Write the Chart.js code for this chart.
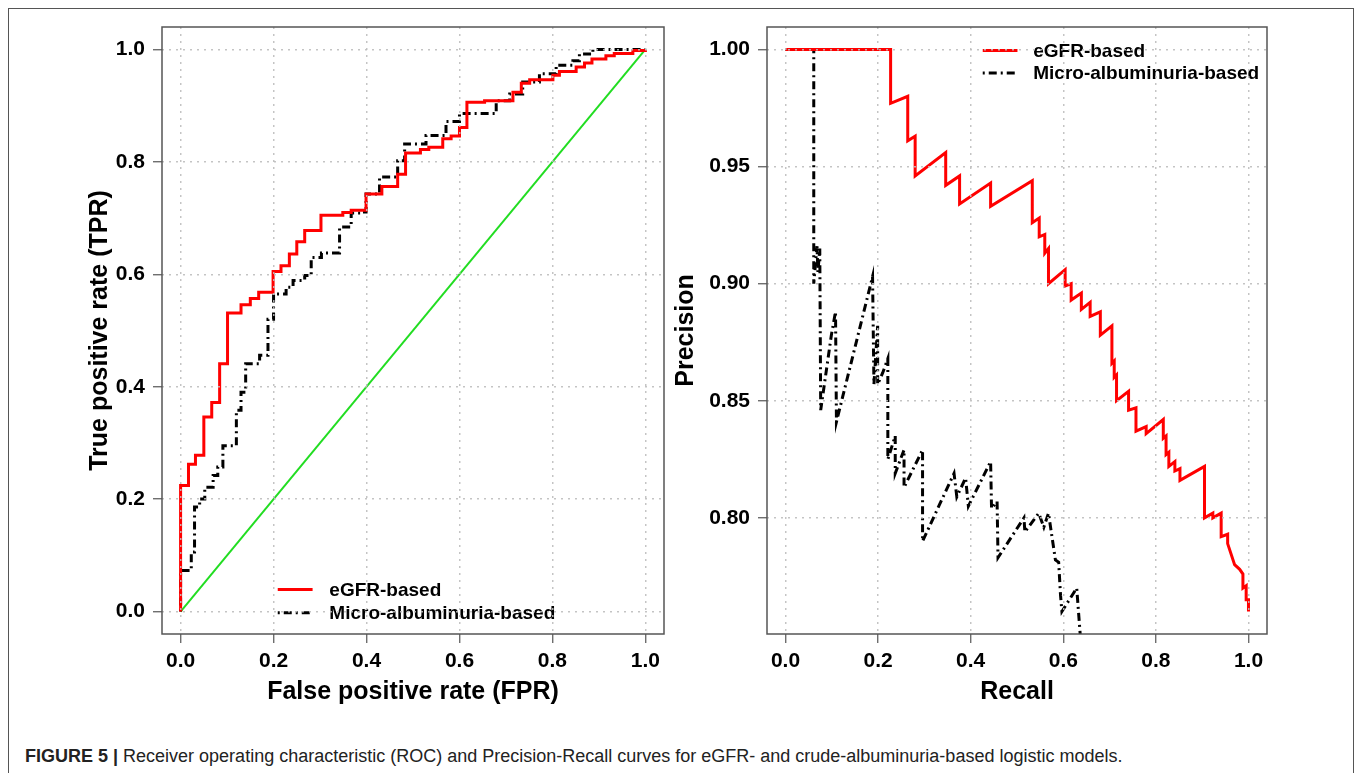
<!DOCTYPE html>
<html lang="en">
<head>
<meta charset="UTF-8">
<title>Figure 5 - ROC and Precision-Recall</title>
<script src="https://cdn.jsdelivr.net/npm/chart.js"></script>
<style>
    body {
        margin: 0;
        width: 1357px;
        height: 773px;
        background: #ffffff;
        position: relative;
        overflow: hidden;
        font-family: "Liberation Sans", Arial, sans-serif;
    }
    .frame {
        position: absolute;
        left: 8px;
        top: 8px;
        width: 1346px;
        height: 800px;
        border: 1.5px solid #555;
        box-sizing: border-box;
    }
    #rocChart { position: absolute; left: 0; top: 0; }
    #prChart { position: absolute; left: 665px; top: 0; }
    .caption {
        position: absolute;
        left: 25px;
        top: 747px;
        font-size: 18px;
        line-height: 18px;
        color: #222;
        white-space: nowrap;
    }
    .caption b { font-weight: bold; }
</style>
</head>
<body>

<div class="frame"></div>
<canvas id="rocChart" width="680" height="720"></canvas>
<canvas id="prChart" width="692" height="720"></canvas>
<div class="caption"><b>FIGURE 5 |</b> Receiver operating characteristic (ROC) and Precision-Recall curves for eGFR- and crude-albuminuria-based logistic models.</div>

<script>
// ROC, eGFR-based (points at the top of each step)
const rocEgfrFpr = [0, 0, 0.017, 0.032, 0.050, 0.067, 0.084, 0.101, 0.130, 0.150, 0.168, 0.199, 0.216, 0.234, 0.250, 0.267, 0.302, 0.349, 0.367, 0.399, 0.433, 0.467, 0.484, 0.516, 0.534, 0.564, 0.582, 0.600, 0.616, 0.654, 0.715, 0.733, 0.751, 0.801, 0.815, 0.851, 0.869, 0.885, 0.915, 0.933, 0.973, 1.0];
const rocEgfrTpr = [0, 0.224, 0.262, 0.278, 0.346, 0.372, 0.441, 0.531, 0.546, 0.557, 0.568, 0.605, 0.615, 0.636, 0.658, 0.678, 0.705, 0.710, 0.714, 0.743, 0.756, 0.778, 0.816, 0.822, 0.826, 0.841, 0.846, 0.861, 0.906, 0.909, 0.924, 0.940, 0.946, 0.954, 0.961, 0.969, 0.976, 0.983, 0.989, 0.993, 0.998, 1.0];

// ROC, micro-albuminuria-based
const rocAlbFpr = [0, 0, 0.023, 0.030, 0.041, 0.052, 0.070, 0.080, 0.091, 0.120, 0.130, 0.140, 0.170, 0.188, 0.200, 0.227, 0.242, 0.267, 0.281, 0.303, 0.342, 0.367, 0.392, 0.399, 0.428, 0.467, 0.482, 0.528, 0.571, 0.600, 0.679, 0.708, 0.736, 0.772, 0.808, 0.844, 0.858, 0.887, 1.0];
const rocAlbTpr = [0, 0.073, 0.106, 0.186, 0.200, 0.221, 0.242, 0.257, 0.295, 0.358, 0.390, 0.441, 0.456, 0.520, 0.565, 0.577, 0.589, 0.598, 0.630, 0.638, 0.684, 0.709, 0.711, 0.743, 0.773, 0.802, 0.832, 0.847, 0.872, 0.886, 0.909, 0.921, 0.942, 0.957, 0.972, 0.980, 0.992, 1.0, 1.0];

// chance line
const chanceFpr = [0, 1];
const chanceTpr = [0, 1];

// Precision-Recall, eGFR-based
const prEgfrRecall = [0, 0.227, 0.227, 0.264, 0.264, 0.280, 0.280, 0.346, 0.346, 0.376, 0.376, 0.443, 0.443, 0.533, 0.533, 0.548, 0.548, 0.560, 0.560, 0.568, 0.568, 0.604, 0.604, 0.617, 0.617, 0.639, 0.639, 0.658, 0.658, 0.680, 0.680, 0.705, 0.705, 0.710, 0.710, 0.715, 0.715, 0.741, 0.741, 0.757, 0.757, 0.779, 0.779, 0.816, 0.816, 0.822, 0.822, 0.828, 0.828, 0.841, 0.841, 0.852, 0.852, 0.905, 0.905, 0.923, 0.923, 0.941, 0.941, 0.955, 0.955, 0.970, 0.981, 0.988, 0.988, 0.995, 0.995, 1.0, 1.0];
const prEgfrPrecision = [1, 1, 0.977, 0.980, 0.961, 0.963, 0.946, 0.956, 0.942, 0.946, 0.934, 0.943, 0.933, 0.944, 0.926, 0.928, 0.920, 0.921, 0.913, 0.915, 0.900, 0.906, 0.899, 0.900, 0.893, 0.896, 0.889, 0.892, 0.886, 0.888, 0.878, 0.882, 0.866, 0.867, 0.860, 0.861, 0.850, 0.854, 0.846, 0.847, 0.837, 0.839, 0.836, 0.842, 0.834, 0.835, 0.827, 0.828, 0.822, 0.824, 0.820, 0.821, 0.816, 0.822, 0.800, 0.802, 0.800, 0.802, 0.792, 0.793, 0.789, 0.780, 0.778, 0.776, 0.770, 0.771, 0.765, 0.765, 0.760];

// Precision-Recall, micro-albuminuria-based
const prAlbRecall = [0, 0.061, 0.061, 0.068, 0.070, 0.074, 0.076, 0.099, 0.108, 0.110, 0.188, 0.191, 0.199, 0.199, 0.210, 0.221, 0.221, 0.237, 0.237, 0.256, 0.256, 0.296, 0.296, 0.364, 0.370, 0.389, 0.395, 0.443, 0.445, 0.457, 0.459, 0.515, 0.517, 0.547, 0.558, 0.568, 0.583, 0.590, 0.594, 0.597, 0.629, 0.637, 0.640];
const prAlbPrecision = [1, 1, 0.900, 0.916, 0.905, 0.915, 0.846, 0.878, 0.888, 0.841, 0.903, 0.857, 0.882, 0.857, 0.862, 0.868, 0.825, 0.835, 0.819, 0.829, 0.813, 0.829, 0.790, 0.819, 0.809, 0.817, 0.805, 0.824, 0.804, 0.807, 0.783, 0.800, 0.794, 0.802, 0.796, 0.802, 0.782, 0.781, 0.767, 0.760, 0.770, 0.749, 0.740];

// tick labels
const unitTicks = [0, 0.2, 0.4, 0.6, 0.8, 1.0];
const precisionTicks = [0.80, 0.85, 0.90, 0.95, 1.00];

const toPoints = (xs, ys) => xs.map((x, i) => ({ x: x, y: ys[i] }));

const dotDash = [2, 4, 8, 4];
const gridGrey = 'rgba(190,190,190,0.9)';

// box around the plot region, like R's box()
const boxPlugin = {
    id: 'box',
    afterDraw(chart) {
        const a = chart.chartArea;
        const ctx = chart.ctx;
        ctx.save();
        ctx.strokeStyle = '#555';
        ctx.lineWidth = 1.5;
        ctx.strokeRect(a.left, a.top, a.right - a.left, a.bottom - a.top);
        ctx.restore();
    }
};

// legend drawn inside the plot, placed in data units
const innerLegend = {
    id: 'innerLegend',
    afterDatasetsDraw(chart, args, opts) {
        const ctx = chart.ctx;
        const xs = chart.scales.x, ys = chart.scales.y;
        ctx.save();
        ctx.font = 'bold 19px "Liberation Sans", Arial, sans-serif';
        ctx.textBaseline = 'middle';
        ctx.textAlign = 'left';
        opts.items.forEach((idx, row) => {
            const ds = chart.data.datasets[idx];
            const y = ys.getPixelForValue(opts.rows[row]);
            ctx.beginPath();
            ctx.strokeStyle = ds.borderColor;
            ctx.lineWidth = ds.borderWidth;
            ctx.setLineDash(ds.borderDash || []);
            ctx.moveTo(xs.getPixelForValue(opts.x0), y);
            ctx.lineTo(xs.getPixelForValue(opts.x1), y);
            ctx.stroke();
            ctx.setLineDash([]);
            ctx.fillStyle = '#000';
            ctx.fillText(ds.label, xs.getPixelForValue(opts.textX), y + 1);
        });
        ctx.restore();
    }
};

function axis(opts) {
    return {
        type: 'linear',
        min: opts.min,
        max: opts.max,
        afterBuildTicks: s => { s.ticks = opts.ticks.map(v => ({ value: v })); },
        afterFit: s => { if (opts.width) s.width = opts.width; if (opts.height) s.height = opts.height; },
        grid: {
            z: 1,
            color: gridGrey,
            lineWidth: 1.5,
            drawTicks: true,
            tickLength: 9,
            tickColor: '#555',
            tickWidth: 1.2,
            tickBorderDash: []
        },
        border: { display: false, dash: [2, 5] },
        ticks: {
            color: '#000',
            padding: opts.pad,
            font: { family: '"Liberation Sans", Arial, sans-serif', size: 21, weight: 'bold' },
            callback: v => v.toFixed(opts.digits)
        },
        title: {
            display: true,
            text: opts.title,
            color: '#000',
            padding: 0,
            font: { family: '"Liberation Sans", Arial, sans-serif', size: 25, weight: 'bold' }
        }
    };
}

Chart.defaults.animation = false;

new Chart(document.getElementById('rocChart'), {
    type: 'line',
    data: {
        datasets: [
            { label: 'eGFR-based', data: toPoints(rocEgfrFpr, rocEgfrTpr), borderColor: '#ff0000', borderWidth: 3, stepped: 'before', pointRadius: 0 },
            { label: 'Micro-albuminuria-based', data: toPoints(rocAlbFpr, rocAlbTpr), borderColor: '#000000', borderWidth: 3, borderDash: dotDash, stepped: 'before', pointRadius: 0 },
            { label: 'chance', data: toPoints(chanceFpr, chanceTpr), borderColor: '#22dd22', borderWidth: 2, pointRadius: 0 }
        ]
    },
    options: {
        responsive: false,
        devicePixelRatio: 1,
        layout: { padding: { left: 85, top: 27, right: 16, bottom: 13 } },
        scales: {
            x: axis({ min: -0.04, max: 1.04, ticks: unitTicks, digits: 1, pad: 6, height: 73, title: 'False positive rate (FPR)' }),
            y: axis({ min: -0.04, max: 1.04, ticks: unitTicks, digits: 1, pad: 8, width: 77, title: 'True positive rate (TPR)' })
        },
        plugins: {
            legend: { display: false },
            tooltip: { enabled: false },
            innerLegend: { items: [0, 1], rows: [0.039, -0.002], x0: 0.209, x1: 0.284, textX: 0.320 }
        }
    },
    plugins: [innerLegend, boxPlugin]
});

new Chart(document.getElementById('prChart'), {
    type: 'line',
    data: {
        datasets: [
            { label: 'eGFR-based', data: toPoints(prEgfrRecall, prEgfrPrecision), borderColor: '#ff0000', borderWidth: 3, pointRadius: 0 },
            { label: 'Micro-albuminuria-based', data: toPoints(prAlbRecall, prAlbPrecision), borderColor: '#000000', borderWidth: 3, borderDash: dotDash, pointRadius: 0 }
        ]
    },
    options: {
        responsive: false,
        devicePixelRatio: 1,
        layout: { padding: { left: 6, top: 27, right: 90, bottom: 13 } },
        scales: {
            x: axis({ min: -0.04, max: 1.04, ticks: unitTicks, digits: 1, pad: 6, height: 73, title: 'Recall' }),
            y: axis({ min: 0.7504, max: 1.0096, ticks: precisionTicks, digits: 2, pad: 8, width: 96, title: 'Precision' })
        },
        plugins: {
            legend: { display: false },
            tooltip: { enabled: false },
            innerLegend: { items: [0, 1], rows: [0.9996, 0.990], x0: 0.426, x1: 0.501, textX: 0.535 }
        }
    },
    plugins: [innerLegend, boxPlugin]
});
</script>
</body>
</html>
